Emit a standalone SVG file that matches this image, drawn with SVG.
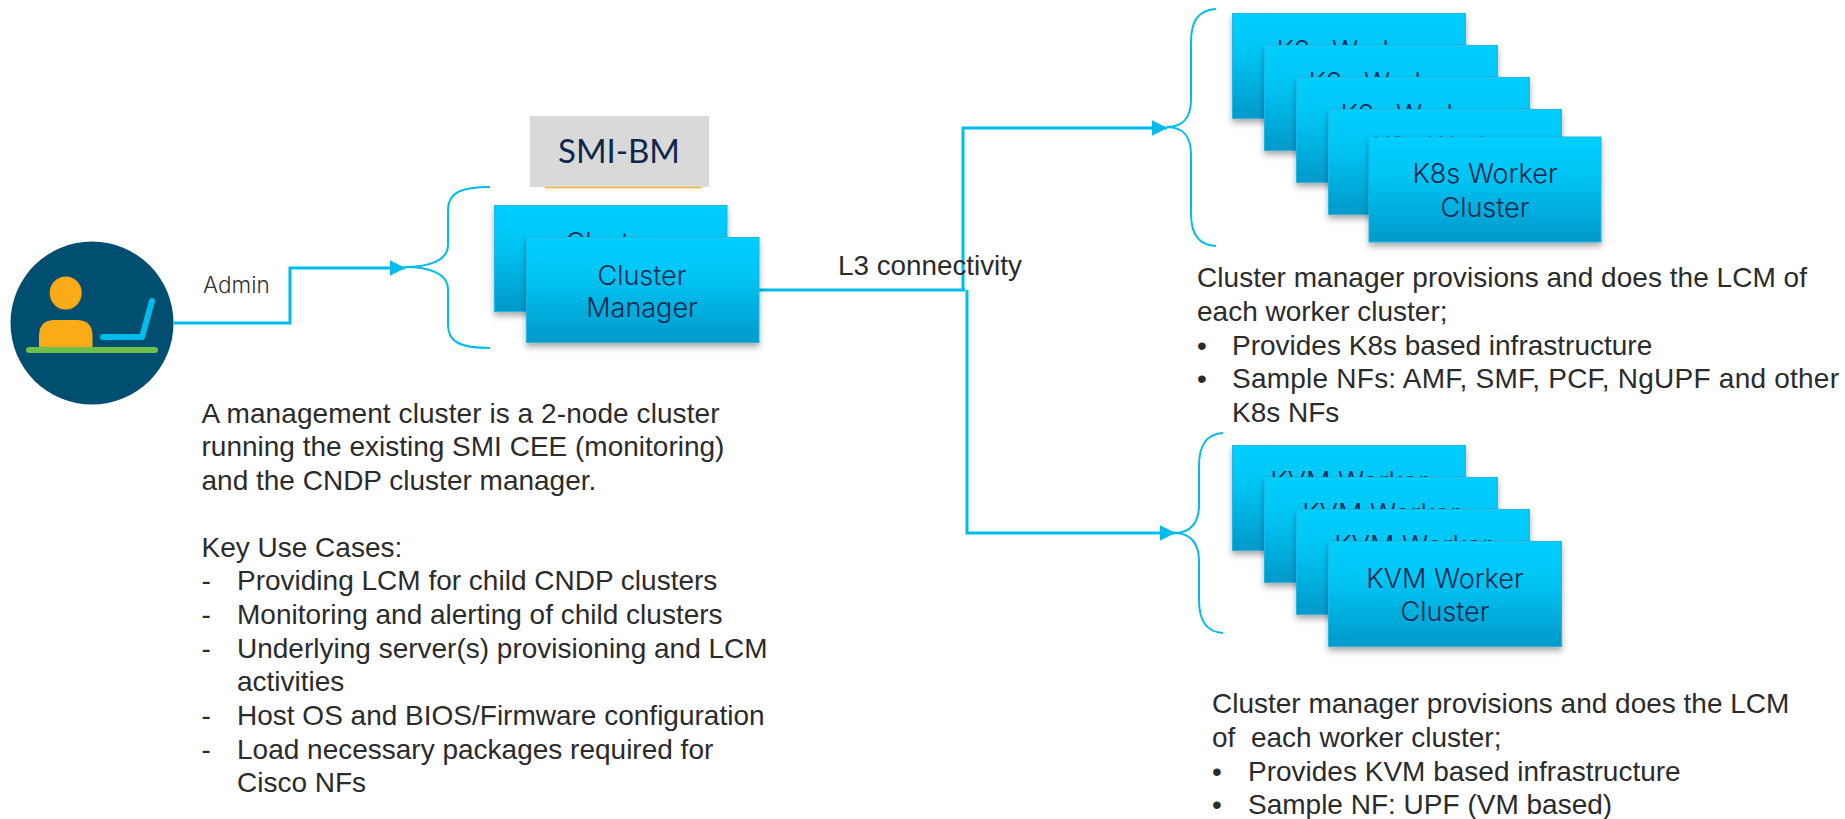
<svg xmlns="http://www.w3.org/2000/svg" width="1845" height="819" viewBox="0 0 1845 819">
<defs>
<linearGradient id="boxFill" x1="0" y1="0" x2="0" y2="1">
<stop offset="0" stop-color="#00cfff"/><stop offset="0.35" stop-color="#00c6f5"/><stop offset="1" stop-color="#0099c9"/>
</linearGradient>
<filter id="shadow" x="-5%" y="-5%" width="110%" height="120%"><feDropShadow dx="0" dy="4" stdDeviation="3" flood-color="#000" flood-opacity="0.32"/></filter>
<marker id="arrow" markerUnits="userSpaceOnUse" markerWidth="16" markerHeight="16" refX="15.5" refY="8" orient="auto"><path d="M0 0L16 8L0 16Z" fill="#00bceb"/></marker>
</defs>
<style>
text{font-family:"Liberation Sans",Arial,sans-serif}
.body{font-size:28px;fill:#2b2b2b}
.box{fill:url(#boxFill);stroke:#1ab8e8;stroke-width:1;filter:url(#shadow)}
.boxtext{font-family:Inter,"Liberation Sans",sans-serif;font-weight:300;font-size:27px;fill:#0d274d;text-anchor:middle}
.conn{fill:none;stroke:#00bceb;stroke-width:3}
.brace{fill:none;stroke:#00bceb;stroke-width:2}
</style>
<rect width="1845" height="819" fill="#fff"/>
<g id="connectors">
<path class="conn" d="M174 323H290V268H405" marker-end="url(#arrow)"/>
<path class="conn" d="M759 290H965"/>
<path class="conn" d="M963 290V128H1167" marker-end="url(#arrow)"/>
<path class="conn" d="M967 290V533H1175" marker-end="url(#arrow)"/>
</g>
<g id="admin">
<circle cx="92" cy="323" r="81.5" fill="#004f71"/>
<ellipse cx="65.7" cy="293" rx="16" ry="16.5" fill="#fbab18"/>
<path d="M39 347V336Q39 320 55 320H76.500Q92.500 320 92.500 336V347Z" fill="#fbab18"/>
<path d="M103 337H142L152 301" fill="none" stroke="#00bceb" stroke-width="6" stroke-linecap="round" stroke-linejoin="round"/>
<rect x="26" y="347" width="132" height="6" rx="3" fill="#6ebe4a"/>
<text x="203" y="293" font-size="22.500" fill="#333" style="font-family:Inter,'Liberation Sans',sans-serif;font-weight:300">Admin</text>
</g>
<g id="smi-bm">
<path d="M545 187.500H701" stroke="#fbab18" stroke-width="1.500"/>
<rect x="530" y="116" width="179" height="71" fill="#d9d9d9"/>
<text x="619" y="163" font-size="33" fill="#0d274d" text-anchor="middle" style="font-family:Lato,'Liberation Sans',sans-serif">SMI-BM</text>
</g>
<g id="manager-brace"><path class="brace" d="M490 187C462 187 448 192 448 210V245C448 260 430 267 405 267C430 267 448 274 448 289V325C448 343 462 348 490 348"/></g>
<g id="cluster-manager">
<rect class="box" x="494.500" y="205.500" width="232.500" height="106"/>
<text class="boxtext" x="610" y="252">Cluster</text>
<rect class="box" x="526.500" y="237.500" width="232.500" height="105"/>
<text class="boxtext" x="642" y="285">Cluster</text><text class="boxtext" x="642" y="317">Manager</text>
</g>
<g id="l3-label"><text x="838" y="275" font-size="27.800" fill="#2b2b2b">L3 connectivity</text></g>
<g id="k8s-brace"><path class="brace" d="M1216 9C1199 10 1191 20 1191 42V100C1191 118 1182 127 1167 127C1182 127 1191 136 1191 154V213C1191 235 1199 245 1216 246"/></g>
<g id="k8s-clusters">
<rect class="box" x="1232.500" y="13.500" width="233" height="105"/>
<text class="boxtext" x="1349" y="60">K8s Worker</text>
<rect class="box" x="1264.500" y="45.500" width="233" height="105"/>
<text class="boxtext" x="1381" y="92">K8s Worker</text>
<rect class="box" x="1296.500" y="77.500" width="233" height="105"/>
<text class="boxtext" x="1413" y="124">K8s Worker</text>
<rect class="box" x="1328.500" y="109.500" width="233" height="105"/>
<text class="boxtext" x="1445" y="156">K8s Worker</text>
<rect class="box" x="1369" y="137" width="232" height="105"/>
<text class="boxtext" x="1485" y="183">K8s Worker</text><text class="boxtext" x="1485" y="217">Cluster</text>
</g>
<g id="kvm-brace"><path class="brace" d="M1223 433C1207 434 1199 444 1199 466V505C1199 523 1190 533 1175 533C1190 533 1199 543 1199 561V600C1199 622 1207 632 1223 633"/></g>
<g id="kvm-clusters">
<rect class="box" x="1232.500" y="445.500" width="233" height="105"/>
<text class="boxtext" x="1349" y="491">KVM Worker</text>
<rect class="box" x="1264.500" y="477.500" width="233" height="105"/>
<text class="boxtext" x="1381" y="523">KVM Worker</text>
<rect class="box" x="1296.500" y="509.500" width="233" height="105"/>
<text class="boxtext" x="1413" y="555">KVM Worker</text>
<rect class="box" x="1328.500" y="541.500" width="233" height="105"/>
<text class="boxtext" x="1445" y="588">KVM Worker</text><text class="boxtext" x="1445" y="621">Cluster</text>
</g>
<g id="management-text">
<text class="body" x="201.500" y="423" textLength="518">A management cluster is a 2-node cluster</text>
<text class="body" x="201.500" y="456">running the existing SMI CEE (monitoring)</text>
<text class="body" x="201.500" y="490">and the CNDP cluster manager.</text>
<text class="body" x="201.500" y="557">Key Use Cases:</text>
<text class="body" x="201.500" y="590">-</text><text class="body" x="237" y="590">Providing LCM for child CNDP clusters</text>
<text class="body" x="201.500" y="624">-</text><text class="body" x="237" y="624">Monitoring and alerting of child clusters</text>
<text class="body" x="201.500" y="658">-</text><text class="body" x="237" y="658">Underlying server(s) provisioning and LCM</text>
<text class="body" x="237" y="691">activities</text>
<text class="body" x="201.500" y="725">-</text><text class="body" x="237" y="725">Host OS and BIOS/Firmware configuration</text>
<text class="body" x="201.500" y="759">-</text><text class="body" x="237" y="759">Load necessary packages required for</text>
<text class="body" x="237" y="792">Cisco NFs</text>
</g>
<g id="k8s-text">
<text class="body" x="1197" y="287" textLength="610">Cluster manager provisions and does the LCM of</text>
<text class="body" x="1197" y="321">each worker cluster;</text>
<text class="body" x="1197" y="355">•</text><text class="body" x="1232" y="355">Provides K8s based infrastructure</text>
<text class="body" x="1197" y="388">•</text><text class="body" x="1232" y="388" textLength="607">Sample NFs: AMF, SMF, PCF, NgUPF and other</text>
<text class="body" x="1232" y="422">K8s NFs</text>
</g>
<g id="kvm-text">
<text class="body" x="1212" y="713">Cluster manager provisions and does the LCM</text>
<text class="body" x="1212" y="747" xml:space="preserve">of  each worker cluster;</text>
<text class="body" x="1212" y="781">•</text><text class="body" x="1248" y="781">Provides KVM based infrastructure</text>
<text class="body" x="1212" y="814">•</text><text class="body" x="1248" y="814">Sample NF: UPF (VM based)</text>
</g>
</svg>
